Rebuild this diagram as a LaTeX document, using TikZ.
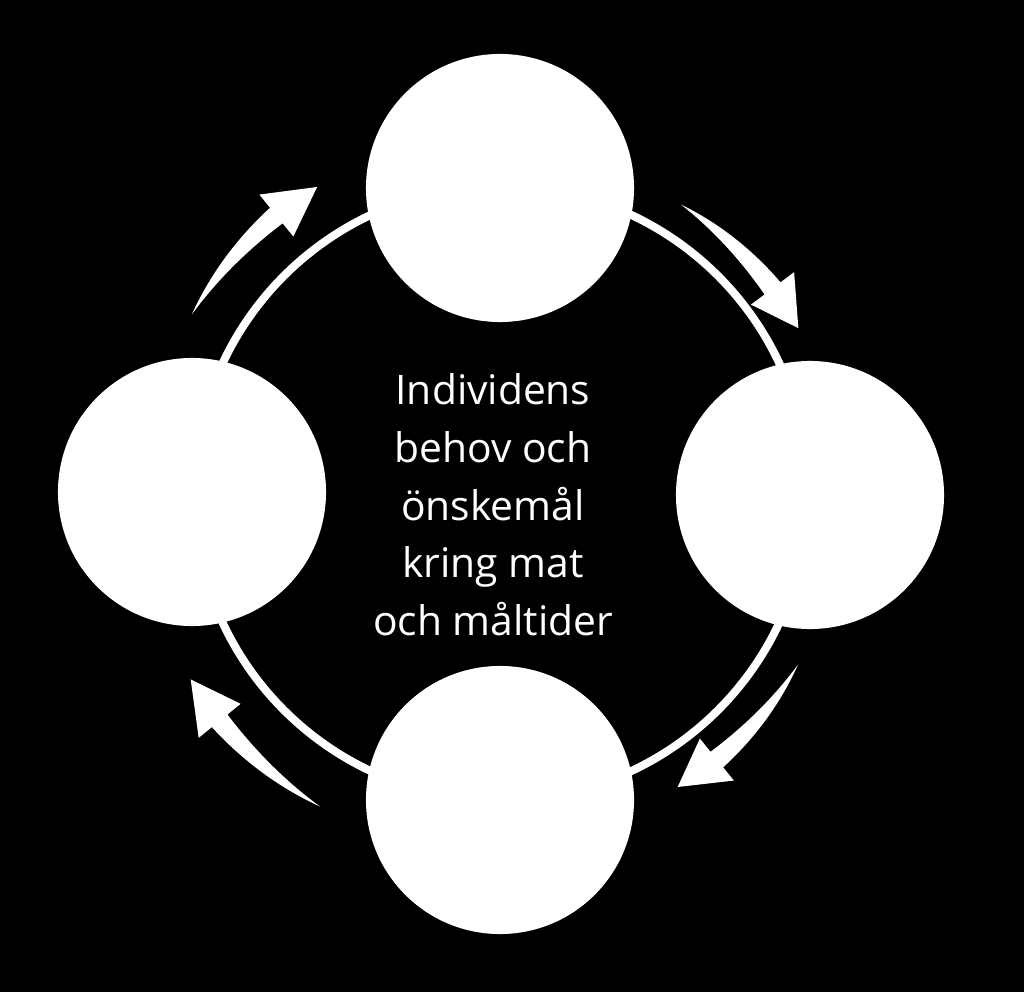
\documentclass[tikz,border=0pt]{standalone}
\usepackage{fontspec}
\setmainfont{Open Sans}

% tapered curved arrow, #1 = start angle, #2 = radius
\newcommand{\cyclearrow}[2]{%
  \fill[white] (#1:#2) .. controls ({#1-7}:{#2+7}) and ({#1-14}:{#2+10}) .. ({#1-21}:{#2+10})
    -- ({#1-21}:{#2+27}) -- ({#1-29}:{#2}) -- ({#1-21}:{#2-27}) -- ({#1-21}:{#2-10})
    .. controls ({#1-14}:{#2-6}) and ({#1-7}:{#2-2}) .. cycle;}

\tikzset{
  stage/.style={circle, fill=white, draw=none, minimum size=6.7cm, inner sep=0pt},
  ring/.style={draw=white, line width=0.2cm}
}

\begin{document}
\begin{tikzpicture}[x=0.025cm, y=0.025cm]
    %background
    \fill[black] (-501,-499) rectangle (523,493);
    \coordinate (mid) at (0,0);

    %ring
    \draw[ring] (mid) circle (307);

    %blocks
    \node[stage] (topc) at (-1,305) {};
    \node[stage] (rightc) at (309,-2) {};
    \node[stage] (bottomc) at (-1,-307) {};
    \node[stage] (leftc) at (-309,1) {};

    %centre text
    \node[text=white, align=center, font=\fontsize{29}{41}\selectfont] (need) at (-8,-12)
        {Individens\\behov och\\önskemål\\kring mat\\och måltider};

    %outer arrows
    \cyclearrow{150}{357}
    \cyclearrow{58}{340}
    \cyclearrow{-30}{343}
    \cyclearrow{240}{362}
\end{tikzpicture}
\end{document}
